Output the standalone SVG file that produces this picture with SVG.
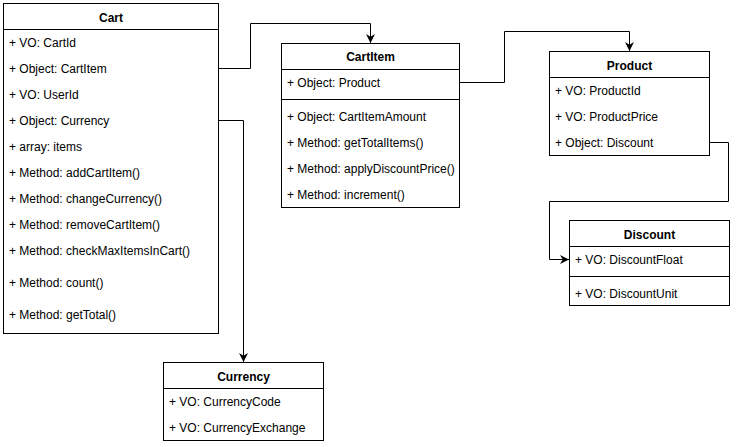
<svg xmlns="http://www.w3.org/2000/svg" width="741" height="447" viewBox="0 0 741 447">
<defs>
<style>
.box{fill:#fff;stroke:#000;stroke-width:1}
.ln{stroke:#000;stroke-width:1;fill:none}
.t{font-family:"Liberation Sans",Arial,sans-serif;font-size:12px;fill:#000}
.h{font-family:"Liberation Sans",Arial,sans-serif;font-size:12px;font-weight:bold;fill:#000;text-anchor:middle}
.c{stroke:#000;stroke-width:1;fill:none;marker-end:url(#arr)}
</style>
<marker id="arr" markerUnits="userSpaceOnUse" markerWidth="9" markerHeight="9" viewBox="0 0 10 10" refX="10" refY="5" orient="auto">
<path d="M0,0 L10,5 L0,10 L3,5 Z" fill="#000"/>
</marker>
</defs>
<rect width="741" height="447" fill="#fff"/>
<g id="connectors">
<path class="c" d="M218.5,68.5 H250.5 V23.5 H370.5 V43"/>
<path class="c" d="M459.5,82.5 H504.5 V31.5 H629.5 V51"/>
<path class="c" d="M218.5,120.5 H243.5 V362"/>
<path class="c" d="M709.5,142.5 H728.5 V201.5 H549.5 V259.5 H569"/>
</g>
<g id="cart">
<rect class="box" x="3.5" y="3.5" width="215" height="330"/>
<line class="ln" x1="3.5" y1="29.5" x2="218.5" y2="29.5"/>
<text class="h" x="111" y="22">Cart</text>
<text class="t" x="9" y="47">+ VO: CartId</text>
<text class="t" x="9" y="73">+ Object: CartItem</text>
<text class="t" x="9" y="99">+ VO: UserId</text>
<text class="t" x="9" y="125">+ Object: Currency</text>
<text class="t" x="9" y="151">+ array: items</text>
<text class="t" x="9" y="177">+ Method: addCartItem()</text>
<text class="t" x="9" y="203">+ Method: changeCurrency()</text>
<text class="t" x="9" y="229">+ Method: removeCartItem()</text>
<text class="t" x="9" y="255">+ Method: checkMaxItemsInCart()</text>
<text class="t" x="9" y="287">+ Method: count()</text>
<text class="t" x="9" y="319">+ Method: getTotal()</text>
</g>
<g id="cartitem">
<rect class="box" x="281.5" y="43.5" width="178" height="164"/>
<line class="ln" x1="281.5" y1="69.5" x2="459.5" y2="69.5"/>
<line class="ln" x1="281.5" y1="99.5" x2="459.5" y2="99.5"/>
<text class="h" x="370.5" y="61">CartItem</text>
<text class="t" x="287" y="87">+ Object: Product</text>
<text class="t" x="287" y="121">+ Object: CartItemAmount</text>
<text class="t" x="287" y="147">+ Method: getTotalItems()</text>
<text class="t" x="287" y="173">+ Method: applyDiscountPrice()</text>
<text class="t" x="287" y="199">+ Method: increment()</text>
</g>
<g id="product">
<rect class="box" x="549.5" y="51.5" width="160" height="104"/>
<line class="ln" x1="549.5" y1="77.5" x2="709.5" y2="77.5"/>
<text class="h" x="629.5" y="70">Product</text>
<text class="t" x="555" y="95">+ VO: ProductId</text>
<text class="t" x="555" y="121">+ VO: ProductPrice</text>
<text class="t" x="555" y="147">+ Object: Discount</text>
</g>
<g id="discount">
<rect class="box" x="569.5" y="220.5" width="160" height="85"/>
<line class="ln" x1="569.5" y1="246.5" x2="729.5" y2="246.5"/>
<line class="ln" x1="569.5" y1="276.5" x2="729.5" y2="276.5"/>
<text class="h" x="649.5" y="239">Discount</text>
<text class="t" x="575" y="264">+ VO: DiscountFloat</text>
<text class="t" x="575" y="298">+ VO: DiscountUnit</text>
</g>
<g id="currency">
<rect class="box" x="163.5" y="362.5" width="160" height="78"/>
<line class="ln" x1="163.5" y1="388.5" x2="323.5" y2="388.5"/>
<text class="h" x="243.5" y="381">Currency</text>
<text class="t" x="169" y="406">+ VO: CurrencyCode</text>
<text class="t" x="169" y="432">+ VO: CurrencyExchange</text>
</g>
</svg>
